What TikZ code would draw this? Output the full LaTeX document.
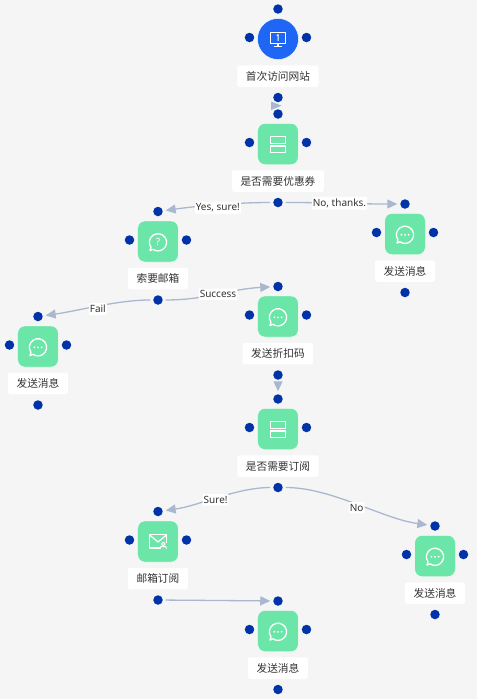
\documentclass[tikz,border=0pt]{standalone}
\usepackage{fontspec}
\setmainfont{Noto Sans}
\newfontfamily\cjk{Noto Sans CJK SC}
\usepackage{tikz}
\usetikzlibrary{positioning, arrows.meta, shapes.geometric}
\definecolor{pagegray}{HTML}{F5F5F5}
\definecolor{stepgreen}{HTML}{6CE6A8}
\definecolor{startblue}{HTML}{1F66F5}
\definecolor{portblue}{HTML}{0033A8}
\definecolor{linegray}{HTML}{A9B8CF}
\definecolor{textgray}{HTML}{333333}
\tikzset{
  >={Triangle[length=10pt, width=9pt]},
  stepbox/.style={
    rectangle, rounded corners=7pt, draw=white, fill=stepgreen,
    minimum width=40.5pt, minimum height=41pt, inner sep=0pt, on grid
  },
  startbox/.style={
    circle, draw=white, fill=startblue, minimum size=41pt, inner sep=0pt
  },
  port/.style={
    circle, fill=portblue, minimum size=9.5pt, inner sep=0pt,
    outer sep=3pt, on grid
  },
  namelabel/.style={
    rectangle, rounded corners=2pt, fill=white, text=textgray,
    minimum height=21.5pt, inner xsep=8.5pt, inner ysep=0pt, on grid,
    font=\cjk\fontsize{10.7}{12}\selectfont
  },
  edgelabel/.style={
    rectangle, rounded corners=1pt, fill=white, text=textgray,
    inner xsep=1pt, inner ysep=2pt,
    font=\fontsize{10}{11}\selectfont
  },
  flowarrow/.style={->, linegray, line width=1.3pt},
  flowline/.style={draw=none},
  sidetip/.style={
    isosceles triangle, isosceles triangle stretches, fill=linegray,
    minimum height=10.5pt, minimum width=8.5pt, inner sep=0pt, xshift=-4pt
  },
  iconline/.style={draw=white, line width=1.3pt, line join=round},
  iconmark/.style={text=white, inner sep=0pt, font=\bfseries\fontsize{10}{10}\selectfont}
}
% ports and name of one step
\newcommand{\ports}[2]{
  \node[port, above=30pt of #1] (#1n) {};
  \node[port, below=58.5pt of #1] (#1s) {};
  \node[port, below left=-1.5pt and 28.5pt of #1] (#1w) {};
  \node[port, below right=-1.5pt and 28.5pt of #1] (#1e) {};
  \node[namelabel, below=37pt of #1] (#1label) {#2};
}
\newcommand{\iconrows}[1]{
  \begin{scope}[shift={(#1)}]
    \draw[iconline] (-7.3,0.8) rectangle (7.3,7.6);
    \draw[iconline] (-7.3,-8.3) rectangle (7.3,-2);
  \end{scope}
}
\newcommand{\iconbubble}[1]{
  \begin{scope}[shift={(#1)}]
    \draw[iconline] (0,-0.8) ++(215:8.6) arc[start angle=215, end angle=-125, radius=8.6]
      -- (-8,-9) -- cycle;
    \foreach \dotx in {-3.6,0,3.6}
      \fill[white] (\dotx,-0.8) circle (1pt);
  \end{scope}
}
\begin{document}
\begin{tikzpicture}[x=1pt, y=1pt]
\useasboundingbox[fill=pagegray] (-278,39) rectangle (199,-660);
\node[startbox] (visit) {};
\node[stepbox, below=105pt of visit] (coupon) {};
\node[stepbox, below left=97.5pt and 120pt of coupon] (askmail) {};
\node[stepbox, below right=90pt and 127pt of coupon] (reject) {};
\node[stepbox, below left=105pt and 120pt of askmail] (failmsg) {};
\node[stepbox, below right=75pt and 120pt of askmail] (discount) {};
\node[stepbox, below=112.5pt of discount] (subscribe) {};
\node[stepbox, below left=112.5pt and 120pt of subscribe] (mailsub) {};
\node[stepbox, below right=127pt and 157pt of subscribe] (nomsg) {};
\node[stepbox, below right=89.5pt and 120pt of mailsub] (lastmsg) {};

\ports{visit}{首次访问网站}
\ports{coupon}{是否需要优惠券}
\ports{askmail}{索要邮箱}
\ports{reject}{发送消息}
\ports{failmsg}{发送消息}
\ports{discount}{发送折扣码}
\ports{subscribe}{是否需要订阅}
\ports{mailsub}{邮箱订阅}
\ports{nomsg}{发送消息}
\ports{lastmsg}{发送消息}

% icons
\begin{scope}[shift={(visit)}]
  \draw[iconline] (-7.4,-4.3) rectangle (7.4,6.7);
  \draw[iconline] (0,-4.3) -- (0,-7.3) (-4,-7.3) -- (4,-7.3);
  \draw[iconline, line width=1pt] (-1.2,3.4) -- (0.2,4.4) -- (0.2,-1.8);
\end{scope}
\iconrows{coupon}
\iconrows{subscribe}
\iconbubble{reject}
\iconbubble{failmsg}
\iconbubble{discount}
\iconbubble{nomsg}
\iconbubble{lastmsg}
\begin{scope}[shift={(askmail)}]
  \draw[iconline] (0,-0.8) ++(215:8.6) arc[start angle=215, end angle=-125, radius=8.6]
    -- (-8,-9) -- cycle;
  \node[iconmark] (askmark) at (0,-0.8) {?};
\end{scope}
\begin{scope}[shift={(mailsub)}]
  \draw[iconline] (3,-6.5) -- (-8.7,-6.5) -- (-8.7,6.8) -- (8.7,6.8) -- (8.7,-1);
  \draw[iconline] (-8.7,6.8) -- (0,-0.5) -- (8.7,6.8);
  \draw[iconline, line width=1pt] (5.3,-2.5) circle (1.8) (2.3,-7.2) -- (2.8,-5) -- (7.8,-5) -- (8.3,-7.2);
\end{scope}

% connectors
\draw[flowline] (visits) -- node[sidetip, pos=.5] (visittip) {} (couponn);
\draw[flowarrow] (coupons) to[out=180, in=8, looseness=.8]
  node[edgelabel, pos=.5, yshift=-3pt] (yeslabel) {Yes, sure!} (askmailn);
\draw[flowarrow] (coupons) to[out=0, in=180]
  node[edgelabel, pos=.48] (nolabel) {No, thanks.} (rejectn);
\draw[flowarrow] (askmails) to[out=0, in=183]
  node[edgelabel, pos=.5] (oklabel) {Success} (discountn);
\draw[flowarrow] (askmails) to[out=180, in=8, looseness=.8]
  node[edgelabel, pos=.5, yshift=-3pt] (faillabel) {Fail} (failmsgn);
\draw[flowarrow] (discounts) -- (subscriben);
\draw[flowarrow] (subscribes) to[out=180, in=8, looseness=.8]
  node[edgelabel, pos=.52, yshift=-2pt] (surelabel) {Sure!} (mailsubn);
\draw[flowarrow] (subscribes) to[out=0, in=172, looseness=.8]
  node[edgelabel, pos=.5, yshift=-4pt] (declinelabel) {No} (nomsgn);
\draw[flowarrow] (mailsubs) -- (lastmsgn);
\end{tikzpicture}
\end{document}
